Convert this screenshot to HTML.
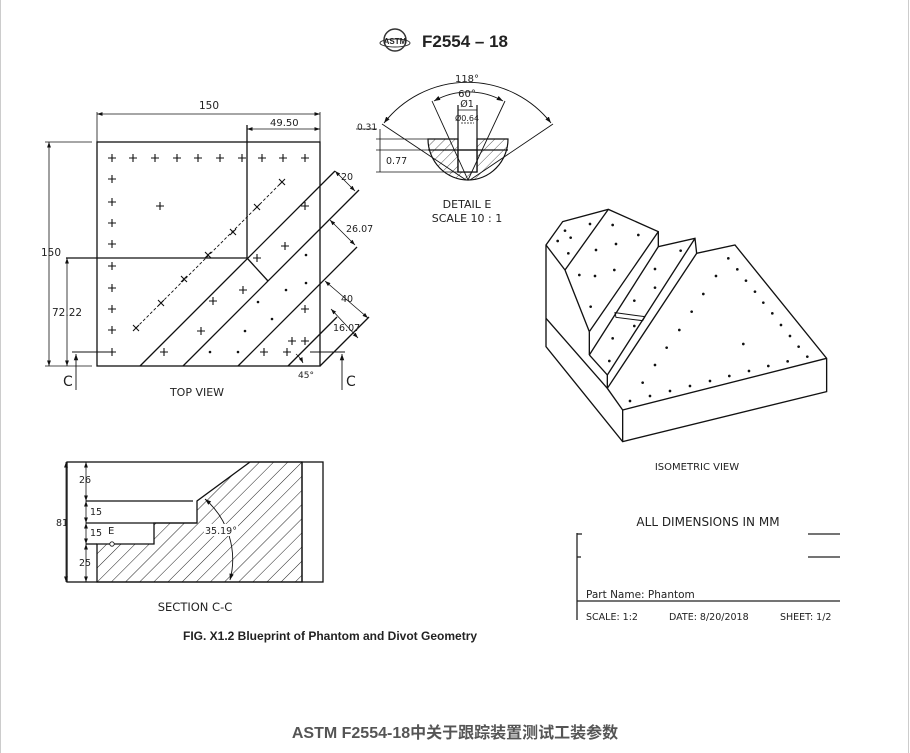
<!DOCTYPE html>
<html><head><meta charset="utf-8"><style>
html,body{margin:0;padding:0;background:#fff;}
svg{display:block;}
text{font-family:"DejaVu Sans","Liberation Sans",sans-serif;fill:#222;}
</style></head><body>
<svg width="910" height="753" viewBox="0 0 910 753" xmlns="http://www.w3.org/2000/svg">
<defs>
<marker id="a" viewBox="0 0 10 10" refX="10" refY="5" markerWidth="7" markerHeight="7" orient="auto-start-reverse"><path d="M0,1.5 L10,5 L0,8.5 z" fill="#111"/></marker>
<pattern id="h" patternUnits="userSpaceOnUse" width="10" height="10" patternTransform="rotate(45)"><line x1="0" y1="0" x2="0" y2="10" stroke="#222" stroke-width="1"/></pattern>
<pattern id="h2" patternUnits="userSpaceOnUse" width="7" height="7" patternTransform="rotate(45)"><line x1="0" y1="0" x2="0" y2="7" stroke="#333" stroke-width="0.8"/></pattern>
</defs>
<line x1="0.5" y1="0" x2="0.5" y2="753" stroke="#ccc"/>
<line x1="908.5" y1="0" x2="908.5" y2="753" stroke="#ccc"/>

<!-- header -->
<circle cx="395" cy="40" r="11" fill="none" stroke="#333" stroke-width="1.5"/>
<ellipse cx="395" cy="43" rx="15" ry="4" fill="none" stroke="#333" stroke-width="1"/>
<text x="395" y="44" font-size="8" font-weight="bold" text-anchor="middle" style="font-family:'Liberation Sans',sans-serif" fill="#333">ASTM</text>
<text x="422" y="47" font-size="17" font-weight="bold" style="font-family:'Liberation Sans',sans-serif">F2554 – 18</text>

<g stroke="#111" fill="none" stroke-width="1.3">
<!-- TOP VIEW -->
<rect x="97" y="142" width="223" height="224"/>
<line x1="247" y1="125" x2="247" y2="258"/>
<line x1="66" y1="258" x2="247" y2="258"/>
<line x1="97" y1="112" x2="97" y2="142" stroke-width="0.8"/>
<line x1="320" y1="112" x2="320" y2="142" stroke-width="0.8"/>
<line x1="97" y1="114" x2="320" y2="114" stroke-width="0.8" marker-start="url(#a)" marker-end="url(#a)"/>
<line x1="247" y1="129" x2="320" y2="129" stroke-width="0.8" marker-start="url(#a)" marker-end="url(#a)"/>
<line x1="45" y1="142" x2="92" y2="142" stroke-width="0.8"/>
<line x1="45" y1="366" x2="92" y2="366" stroke-width="0.8"/>
<line x1="49" y1="142" x2="49" y2="366" stroke-width="0.8" marker-start="url(#a)" marker-end="url(#a)"/>
<line x1="67" y1="258" x2="67" y2="366" stroke-width="0.8" marker-start="url(#a)" marker-end="url(#a)"/>
<line x1="72" y1="352" x2="108" y2="352" stroke-width="0.9"/>
<line x1="76" y1="390" x2="76" y2="354" stroke-width="0.9" marker-end="url(#a)"/>
<line x1="310" y1="352" x2="345" y2="352" stroke-width="0.9"/>
<line x1="342" y1="390" x2="342" y2="354" stroke-width="0.9" marker-end="url(#a)"/>
<!-- diagonals -->
<line x1="140" y1="366" x2="335" y2="171"/>
<line x1="183" y1="366" x2="359" y2="190"/>
<line x1="238" y1="366" x2="357" y2="247"/>
<line x1="288" y1="366" x2="337" y2="317"/>
<line x1="320" y1="366" x2="369" y2="317"/>
<line x1="247" y1="258" x2="268" y2="281"/>
<line x1="335" y1="171" x2="355" y2="191" stroke-width="0.8" marker-start="url(#a)" marker-end="url(#a)"/>
<line x1="330" y1="220" x2="355" y2="245" stroke-width="0.8" marker-start="url(#a)" marker-end="url(#a)"/>
<line x1="325" y1="281" x2="368" y2="318" stroke-width="0.8" marker-start="url(#a)" marker-end="url(#a)"/>
<line x1="331" y1="309" x2="358" y2="338" stroke-width="0.8" marker-start="url(#a)" marker-end="url(#a)"/>
<path d="M296,354 A25,25 0 0 1 303,363" stroke-width="0.8" marker-end="url(#a)"/>
<line x1="136" y1="328" x2="282" y2="182" stroke-dasharray="3,2" stroke-width="0.9"/>
</g>
<g stroke="#111" stroke-width="1.1">
<path d="M108,158h8M112,154v8 M129,158h8M133,154v8 M151,158h8M155,154v8 M173,158h8M177,154v8 M194,158h8M198,154v8 M216,158h8M220,154v8 M238,158h8M242,154v8 M258,158h8M262,154v8 M279,158h8M283,154v8 M301,158h8M305,154v8"/>
<path d="M108,179h8M112,175v8 M108,202h8M112,198v8 M108,223h8M112,219v8 M108,244h8M112,240v8 M108,266h8M112,262v8 M108,288h8M112,284v8 M108,309h8M112,305v8 M108,330h8M112,326v8 M108,352h8M112,348v8"/>
<path d="M156,206h8M160,202v8 M301,206h8M305,202v8 M281,246h8M285,242v8 M253,258h8M257,254v8 M239,290h8M243,286v8 M209,301h8M213,297v8 M197,331h8M201,327v8 M160,352h8M164,348v8 M260,352h8M264,348v8 M283,352h8M287,348v8 M288,341h8M292,337v8 M301,341h8M305,337v8 M301,309h8M305,305v8"/>
<path d="M279,179l6,6M285,179l-6,6 M254,204l6,6M260,204l-6,6 M230,229l6,6M236,229l-6,6 M205,252l6,6M211,252l-6,6 M181,276l6,6M187,276l-6,6 M158,300l6,6M164,300l-6,6 M133,325l6,6M139,325l-6,6"/>
</g>
<g fill="#111">
<circle cx="306" cy="255" r="1.3"/><circle cx="306" cy="283" r="1.3"/><circle cx="286" cy="290" r="1.3"/><circle cx="258" cy="302" r="1.3"/><circle cx="272" cy="319" r="1.3"/><circle cx="245" cy="331" r="1.3"/><circle cx="210" cy="352" r="1.3"/><circle cx="238" cy="352" r="1.3"/>
</g>
<g font-size="10.5">
<text x="209" y="109" text-anchor="middle">150</text>
<text x="270" y="126" font-size="10">49.50</text>
<text x="41" y="256">150</text>
<text x="52" y="316">72.22</text>
<text x="341" y="180" font-size="9.5">20</text>
<text x="346" y="232" font-size="9.5">26.07</text>
<text x="341" y="302" font-size="9.5">40</text>
<text x="333" y="331" font-size="9.5">16.07</text>
<text x="298" y="378" font-size="9">45°</text>
<text x="63" y="386" font-size="14">C</text>
<text x="346" y="386" font-size="14">C</text>
<text x="197" y="396" text-anchor="middle" font-size="11">TOP VIEW</text>
</g>

<!-- DETAIL E -->
<g stroke="#111" fill="none" stroke-width="1.2">
<path d="M428,139 L458,139 L458,172 L477,172 L477,139 L508,139 A40,41 0 0 1 428,139 Z" fill="url(#h2)"/>
<rect x="458" y="150" width="19" height="22" fill="#fff"/>
<line x1="428" y1="150" x2="508" y2="150"/>
<line x1="458" y1="105" x2="458" y2="172"/>
<line x1="477" y1="105" x2="477" y2="172"/>
<line x1="432" y1="101" x2="468" y2="180" stroke-width="0.9"/>
<line x1="505" y1="101" x2="468" y2="180" stroke-width="0.9"/>
<line x1="382" y1="124" x2="466" y2="180" stroke-width="0.9"/>
<line x1="553" y1="124" x2="470" y2="180" stroke-width="0.9"/>
<path d="M384,123 A106,106 0 0 1 551,123" stroke-width="0.9" marker-start="url(#a)" marker-end="url(#a)"/>
<path d="M434,101 A70,70 0 0 1 503,101" stroke-width="0.9" marker-start="url(#a)" marker-end="url(#a)"/>
<line x1="458" y1="110" x2="477" y2="110" stroke-width="0.8"/>
<line x1="461" y1="123" x2="474" y2="123" stroke-width="0.7" stroke-dasharray="2,1"/>
<line x1="356" y1="129" x2="377" y2="129" stroke-width="0.8"/>
<line x1="376" y1="139" x2="428" y2="139" stroke-width="0.8"/>
<line x1="376" y1="150" x2="428" y2="150" stroke-width="0.8"/>
<line x1="376" y1="172" x2="458" y2="172" stroke-width="0.8"/>
<line x1="380" y1="129" x2="380" y2="172" stroke-width="0.8"/>
</g>
<g font-size="10">
<text x="467" y="82" text-anchor="middle">118°</text>
<text x="467" y="97" text-anchor="middle">60°</text>
<text x="467" y="107" text-anchor="middle" font-size="9.5">Ø1</text>
<text x="467" y="121" text-anchor="middle" font-size="8">Ø0.64</text>
<text x="357" y="130" font-size="9">0.31</text>
<text x="386" y="164" font-size="9.5">0.77</text>
<text x="467" y="208" text-anchor="middle" font-size="11">DETAIL E</text>
<text x="467" y="222" text-anchor="middle" font-size="11">SCALE 10 : 1</text>
</g>

<!-- SECTION C-C -->
<g stroke="#111" fill="none" stroke-width="1.3">
<path d="M97,582 L97,544 L154,544 L154,523 L197,523 L197,501 L250,462 L302,462 L302,582 Z" fill="url(#h)"/>
<rect x="67" y="462" width="256" height="120"/>
<line x1="302" y1="462" x2="302" y2="582"/>
<line x1="86" y1="501" x2="193" y2="501"/>
<line x1="86" y1="523" x2="197" y2="523"/>
<line x1="86" y1="544" x2="97" y2="544"/>
<line x1="86" y1="462" x2="86" y2="501" stroke-width="0.8" marker-start="url(#a)" marker-end="url(#a)"/>
<line x1="86" y1="501" x2="86" y2="523" stroke-width="0.8" marker-start="url(#a)" marker-end="url(#a)"/>
<line x1="86" y1="523" x2="86" y2="544" stroke-width="0.8" marker-start="url(#a)" marker-end="url(#a)"/>
<line x1="86" y1="544" x2="86" y2="582" stroke-width="0.8" marker-start="url(#a)" marker-end="url(#a)"/>
<line x1="66" y1="462" x2="66" y2="582" stroke-width="0.8" marker-start="url(#a)" marker-end="url(#a)"/>
<path d="M205,499 A80,80 0 0 1 230,580" stroke-width="0.9" marker-start="url(#a)" marker-end="url(#a)"/>
<circle cx="112" cy="544" r="2.2" fill="#fff" stroke-width="0.8"/>
</g>
<rect x="204" y="524" width="34" height="12" fill="#fff"/>
<g font-size="9.5">
<text x="79" y="483">26</text>
<text x="90" y="515">15</text>
<text x="90" y="536">15</text>
<text x="79" y="566">25</text>
<text x="56" y="526">81</text>
<text x="108" y="534" font-size="10">E</text>
<text x="205" y="534" font-size="9.5">35.19°</text>
<text x="195" y="611" text-anchor="middle" font-size="11.5">SECTION C-C</text>
</g>

<!-- ISOMETRIC -->
<g transform="translate(530,200) scale(0.3333)" stroke="#111" fill="none" stroke-width="4">
<path d="M98,65 L235,28 L385,95 L385,140 L495,115 L500,160 L615,135 L890,475 L890,575 L278,725 L48,440 L48,135 Z" fill="#fff"/>
<line x1="48" y1="135" x2="105" y2="210"/>
<line x1="235" y1="28" x2="105" y2="210"/>
<line x1="105" y1="210" x2="178" y2="395"/>
<line x1="385" y1="95" x2="178" y2="395"/>
<line x1="178" y1="395" x2="178" y2="465"/>
<line x1="385" y1="140" x2="178" y2="465"/>
<line x1="178" y1="465" x2="232" y2="525"/>
<line x1="495" y1="115" x2="232" y2="525"/>
<line x1="500" y1="160" x2="232" y2="565"/>
<line x1="232" y1="525" x2="232" y2="565"/>
<line x1="48" y1="355" x2="232" y2="565"/>
<line x1="232" y1="565" x2="278" y2="630"/>
<line x1="278" y1="630" x2="890" y2="475"/>
<line x1="278" y1="630" x2="278" y2="725"/>
<path d="M255,338 L345,350 L338,362 L258,352 Z" stroke-width="3"/>
<g fill="#111" stroke="none">
<circle cx="180" cy="72" r="4"/><circle cx="105" cy="92" r="4"/><circle cx="122" cy="113" r="4"/><circle cx="83" cy="123" r="4"/><circle cx="115" cy="160" r="4"/>
<circle cx="248" cy="75" r="4"/><circle cx="325" cy="105" r="4"/><circle cx="258" cy="132" r="4"/><circle cx="198" cy="150" r="4"/><circle cx="253" cy="210" r="4"/><circle cx="148" cy="225" r="4"/><circle cx="195" cy="228" r="4"/><circle cx="182" cy="320" r="4"/>
<circle cx="452" cy="152" r="4"/><circle cx="375" cy="207" r="4"/><circle cx="375" cy="263" r="4"/><circle cx="313" cy="302" r="4"/><circle cx="313" cy="378" r="4"/><circle cx="248" cy="415" r="4"/><circle cx="238" cy="483" r="4"/>
<circle cx="595" cy="175" r="4"/><circle cx="622" cy="208" r="4"/><circle cx="648" cy="242" r="4"/><circle cx="675" cy="275" r="4"/><circle cx="700" cy="308" r="4"/><circle cx="727" cy="340" r="4"/><circle cx="753" cy="375" r="4"/><circle cx="780" cy="408" r="4"/><circle cx="806" cy="440" r="4"/><circle cx="832" cy="470" r="4"/>
<circle cx="558" cy="228" r="4"/><circle cx="520" cy="282" r="4"/><circle cx="485" cy="335" r="4"/><circle cx="448" cy="390" r="4"/><circle cx="410" cy="443" r="4"/><circle cx="375" cy="495" r="4"/><circle cx="338" cy="548" r="4"/><circle cx="300" cy="603" r="4"/>
<circle cx="360" cy="588" r="4"/><circle cx="420" cy="573" r="4"/><circle cx="480" cy="558" r="4"/><circle cx="540" cy="543" r="4"/><circle cx="598" cy="528" r="4"/><circle cx="657" cy="513" r="4"/><circle cx="715" cy="498" r="4"/><circle cx="773" cy="484" r="4"/><circle cx="640" cy="432" r="4"/>
</g>
</g>
<text x="697" y="470" text-anchor="middle" font-size="10">ISOMETRIC VIEW</text>

<!-- title block -->
<text x="708" y="526" text-anchor="middle" font-size="12">ALL DIMENSIONS IN MM</text>
<g stroke="#222" stroke-width="1.3">
<line x1="577" y1="533" x2="577" y2="620"/>
<line x1="577" y1="534" x2="582" y2="534"/>
<line x1="577" y1="557" x2="581" y2="557"/>
<line x1="808" y1="534" x2="840" y2="534"/>
<line x1="808" y1="557" x2="840" y2="557"/>
<line x1="577" y1="601" x2="840" y2="601"/>
</g>
<text x="586" y="598" font-size="10.5">Part Name: Phantom</text>
<text x="586" y="620" font-size="9.5">SCALE: 1:2</text>
<text x="669" y="620" font-size="9.5">DATE: 8/20/2018</text>
<text x="780" y="620" font-size="9.5">SHEET: 1/2</text>

<text x="183" y="640" font-size="12" font-weight="bold" style="font-family:'Liberation Sans',sans-serif">FIG. X1.2 Blueprint of Phantom and Divot Geometry</text>
<text x="455" y="738" text-anchor="middle" font-size="16" font-weight="bold" fill="#555" style="font-family:'Liberation Sans','Noto Sans CJK SC',sans-serif;fill:#555">ASTM F2554-18中关于跟踪装置测试工装参数</text>
</svg>
</body></html>
